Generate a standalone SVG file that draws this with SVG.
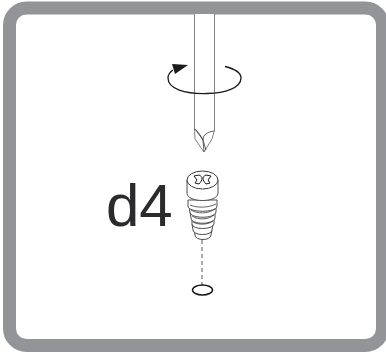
<svg xmlns="http://www.w3.org/2000/svg" width="386" height="352" viewBox="0 0 386 352">
<style>
.l{fill:none;stroke:#3a3a3c;stroke-width:.8}
.t{fill:#fff;stroke:#3a3a3c;stroke-width:.9}
</style>
<rect width="386" height="352" fill="#fff"/>
<g id="frame"><rect x="9.500" y="8" width="373" height="337.500" rx="17" fill="#fff" stroke="#929497" stroke-width="13"/></g>
<g id="driver">
<path d="M194.500 14V128L195 139L204 152L212 139L214.500 130V14" fill="#fff" stroke="#808285" stroke-width="1"/>
<path class="l" d="M195 129L203 140L206 150M203 140L204 152M203 140C203 134 208 132 214 131M195 129C197 131 200 134 203 140"/>
</g>
<g id="rotation">
<path d="M225 66.500C235 69 241 73 241 78C241 88 225 93 207 93.500C185 94 168 89 168 78C168 74.500 170 72 173 70" fill="none" stroke="#1a1a1a" stroke-width="1.300"/>
<path d="M172 64L188 65L175 74Z" fill="#1a1a1a"/>
</g>
<g id="label"><text x="106" y="226" font-family="'Liberation Sans',Arial,sans-serif" font-size="60" fill="#2b2a2c">d4</text></g>
<g id="screw">
<path class="t" d="M195 235C195 241 211 241 211 235L212 230L194 230Z"/>
<path class="t" d="M193 230C193 236 212 236 212 230L213 224L192 224Z"/>
<path class="t" d="M192 224C192 230 213 230 214 224L214 218L192 218Z"/>
<path class="t" d="M191 218C191 225 214 225 215 218L215 212L190 212Z"/>
<path class="t" d="M190 212C190 219 215 219 216 212L216 206L189 206Z"/>
<path class="t" d="M188 206C188 213 217 213 217 206L217 200L188 200Z"/>
<path class="l" d="M193 222C198 225 208 225 213 221M192 216C198 220 208 220 214 215M191 210C197 214 208 214 215 209M190 205C197 208 208 208 216 204"/>
<path class="t" d="M187 180V193C187 203 218 203 218 193V180Z"/>
<ellipse cx="202.500" cy="180" rx="15.500" ry="9" fill="#fff" stroke="#3a3a3c" stroke-width="1"/>
<path d="M199 175C201 176 202 177 202 178C202 180 201 182 199 184L195 183L197 180L194 176ZM206 175C204 176 203 177 203 178C203 180 204 182 206 184L210 183L208 180L211 176Z" fill="none" stroke="#1a1a1a" stroke-width="1"/>
</g>
<g id="connectors"><path d="M202 240V288" fill="none" stroke="#58595b" stroke-width="1" stroke-dasharray="4 3"/></g>
<g id="ring"><ellipse cx="202.500" cy="290" rx="10" ry="5" fill="none" stroke="#1a1a1a" stroke-width="1.500"/></g>
</svg>
